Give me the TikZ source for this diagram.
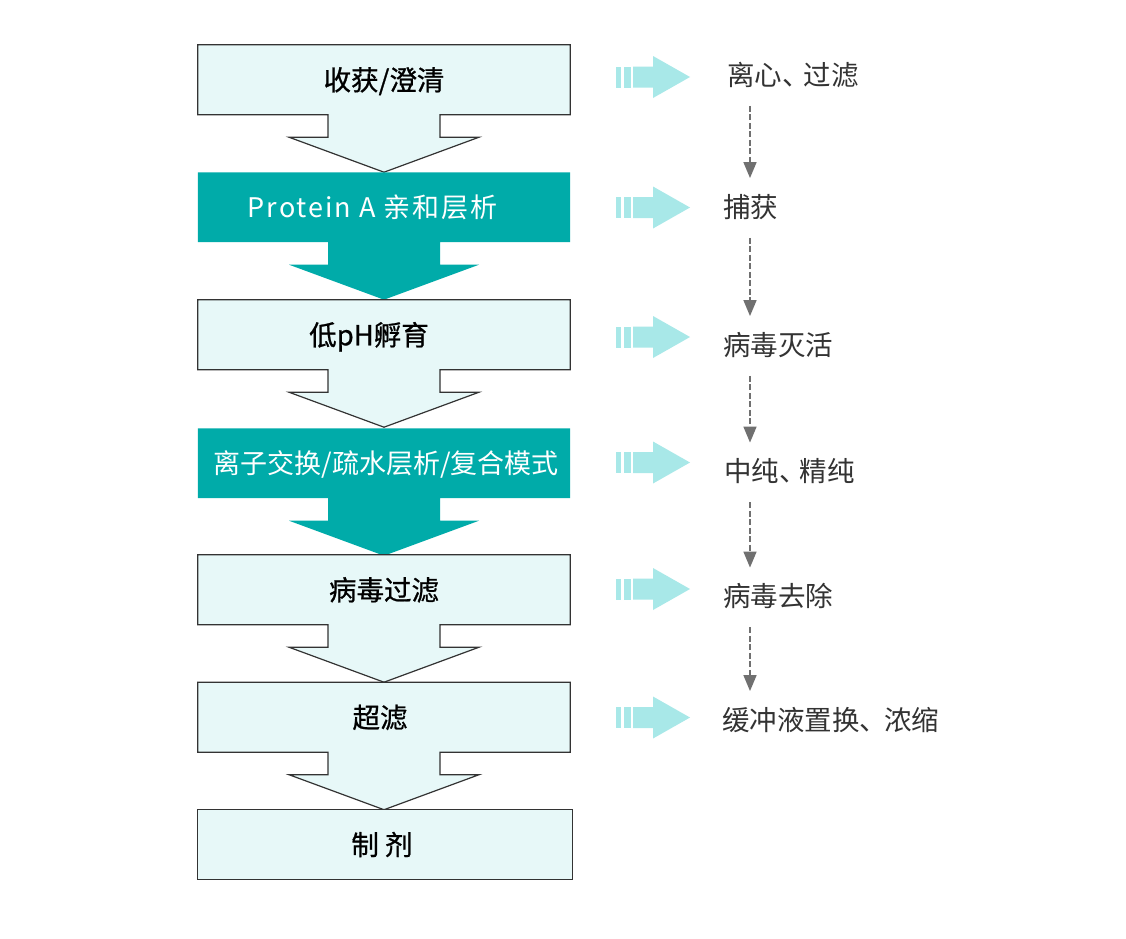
\documentclass[tikz,border=0pt]{standalone}
\usepackage{fontspec}
\setmainfont{Noto Sans CJK SC}
\newfontfamily\boxfont[FakeBold=0.8]{Noto Sans CJK SC}
\usetikzlibrary{calc,arrows.meta,backgrounds}
\definecolor{lightbox}{HTML}{E7F8F8}
\definecolor{tealbox}{HTML}{00ABA9}
\definecolor{arrowc}{HTML}{A8E8E8}
\definecolor{dashc}{HTML}{707070}
\definecolor{rtext}{HTML}{333333}
\definecolor{edgec}{HTML}{333333}
\newcommand\flowarrow[2]{%
 \path[#2] (#1.north west) -- (#1.north east) -- (#1.south east)
  -- ($(#1.south)+(56,0)$) -- ($(#1.south)+(56,22.5)$) -- ($(#1.south)+(95,22.5)$)
  -- ($(#1.south)+(0,57.5)$) -- ($(#1.south)+(-95,22.5)$) -- ($(#1.south)+(-56,22.5)$)
  -- ($(#1.south)+(-56,0)$) -- (#1.south west) -- cycle;}
\newcommand\stripearrow[1]{%
 \fill[arrowc] ($(#1)+(-37,-10.5)$) rectangle ($(#1)+(-32,10.5)$);
 \fill[arrowc] ($(#1)+(-29,-10.5)$) rectangle ($(#1)+(-22,10.5)$);
 \fill[arrowc] ($(#1)+(-20,-10.5)$) -- ($(#1)+(0,-10.5)$) -- ($(#1)+(0,-21)$)
  -- ($(#1)+(37,0)$) -- ($(#1)+(0,21)$) -- ($(#1)+(0,10.5)$) -- ($(#1)+(-20,10.5)$) -- cycle;}
\begin{document}
\begin{tikzpicture}[x=1pt,y=-1pt,
  box/.style={minimum width=372pt, minimum height=69.5pt, inner sep=0pt,
    text height=21pt, text depth=0pt, font=\boxfont\fontsize{27.5}{30}\selectfont},
  lightbox/.style={box, text=black},
  tealtxt/.style={box, text=white, font=\fontsize{27}{30}\selectfont},
  lightshape/.style={fill=lightbox, draw=edgec, line width=1.2pt, line join=miter},
  tealshape/.style={fill=tealbox},
  rtxt/.style={anchor=west, inner sep=0pt, text height=21pt, text depth=0.5pt,
    text=rtext, font=\fontsize{27.5}{30}\selectfont},
  dashar/.style={draw=dashc, line width=1.6pt, dash pattern=on 6pt off 2.5pt,
    -{Triangle[length=16pt,width=13pt]}, shorten <=20pt, shorten >=18pt}
]
\useasboundingbox (0,0) rectangle (1126,938);

% left flow
\node[lightbox] (b1) at (384,79.75) {收获/澄清};
\node[tealtxt] (b2) at (384,207.25) {\addfontfeature{LetterSpace=7}Protein A 亲和层析\kern23pt};
\node[lightbox] (b3) at (384,334.75) {低pH孵育\kern30pt};
\node[tealtxt] (b4) at (384,463.25) {离子交换/疏水层析/复合模式\kern-4pt};
\node[lightbox] (b5) at (384,589.75) {病毒过滤};
\node[lightbox] (b6) at (384,717.25) {超滤\kern8pt};
\node[lightbox, minimum width=374pt] (b7) at (385,844.5) {制 剂\kern6pt};

\begin{scope}[on background layer]
\fill[white] (0,0) rectangle (1126,938);
\flowarrow{b1}{lightshape}
\flowarrow{b2}{tealshape}
\flowarrow{b3}{lightshape}
\flowarrow{b4}{tealshape}
\flowarrow{b5}{lightshape}
\flowarrow{b6}{lightshape}
\path[lightshape] (b7.north west) rectangle (b7.south east);
\end{scope}

% right side
\coordinate (a1) at (653,77);
\coordinate (a2) at (653,207.5);
\coordinate (a3) at (653,337);
\coordinate (a4) at (653,462.5);
\coordinate (a5) at (653,589);
\coordinate (a6) at (653,717.5);
\stripearrow{a1}
\stripearrow{a2}
\stripearrow{a3}
\stripearrow{a4}
\stripearrow{a5}
\stripearrow{a6}

\node[rtxt] (r1) at (727,75) {离心、\kern-6pt过滤};
\node[rtxt] (r2) at (723,207) {捕获};
\node[rtxt] (r3) at (723,345) {病毒灭活};
\node[rtxt] (r4) at (724,471.5) {中纯、\kern-7pt精纯};
\node[rtxt] (r5) at (723,596.5) {病毒去除};
\node[rtxt] (r6) at (722,720) {缓冲液置换、\kern-3pt浓缩};

\coordinate (dx) at (750,0);
\draw[dashar] (r1.south -| dx) -- (r2.north -| dx);
\draw[dashar] (r2.south -| dx) -- (r3.north -| dx);
\draw[dashar] (r3.south -| dx) -- (r4.north -| dx);
\draw[dashar] (r4.south -| dx) -- (r5.north -| dx);
\draw[dashar] (r5.south -| dx) -- (r6.north -| dx);
\end{tikzpicture}
\end{document}
